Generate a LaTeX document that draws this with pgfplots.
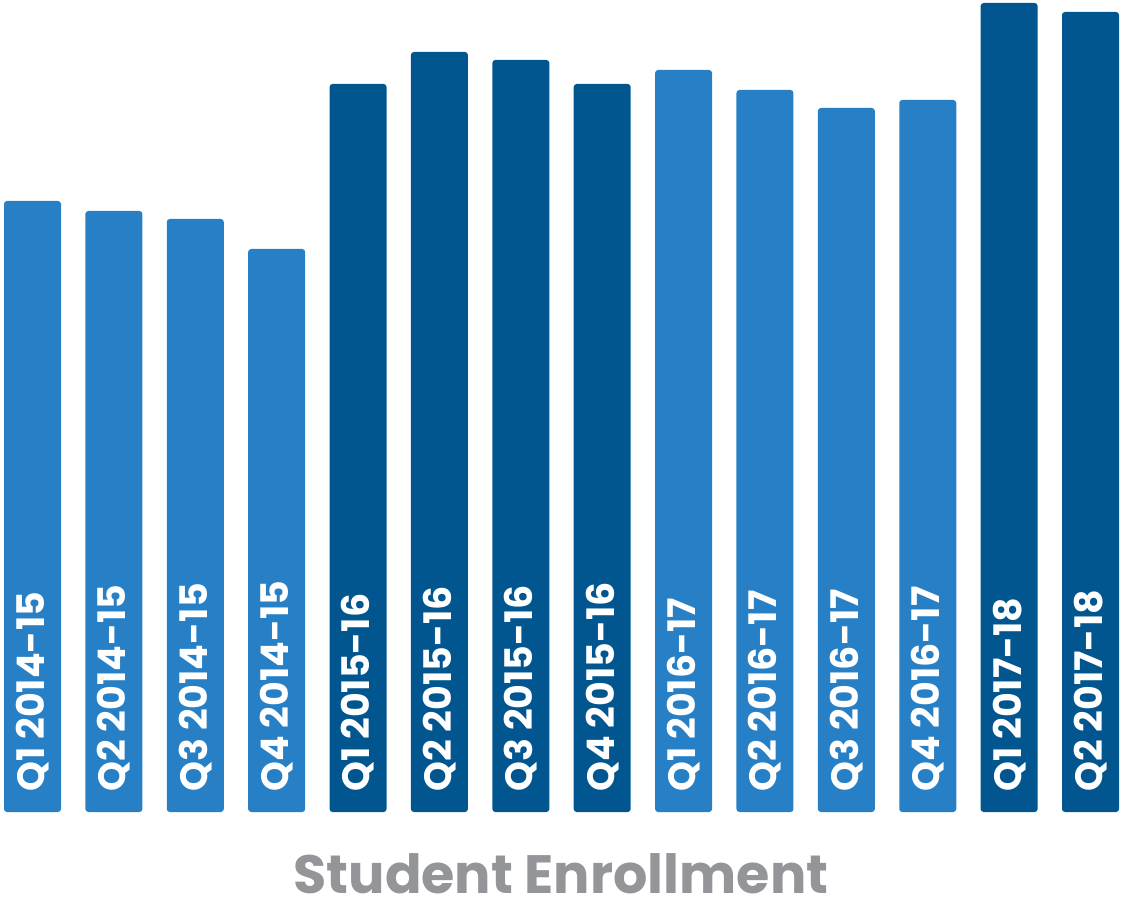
\documentclass[border=0pt]{standalone}
\usepackage{pgfplots}
\pgfplotsset{compat=1.18}
\usepackage{fontspec}
\setmainfont{Poppins}
\newfontfamily\barfont{Poppins}[UprightFont=* Bold]
\definecolor{lightbar}{HTML}{2780C5}
\definecolor{darkbar}{HTML}{02568F}
\definecolor{titlegray}{HTML}{939598}

\begin{document}
\begin{tikzpicture}
\begin{axis}[
  scale only axis,
  width=1122pt, height=812pt,
  xmin=-0.3994, xmax=13.387,
  ymin=0, ymax=812,
  xtick=\empty, ytick=\empty,
  axis line style={draw=none},
  clip=false,
  xlabel={Student Enrollment},
  xlabel style={at={(axis description cs:0.5,0)}, anchor=base, yshift=-81pt,
    inner sep=0pt, text depth=16pt, text=titlegray,
    font=\barfont\fontsize{54}{54}\selectfont},
]
% light bars
\addplot[ybar, bar width=57pt, fill=lightbar, draw=none, rounded corners=3pt]
coordinates {(0,611) (1,601) (2,593) (3,563) (8,742) (9,722) (10,704) (11,712)};
% dark bars
\addplot[ybar, bar width=57pt, fill=darkbar, draw=none, rounded corners=3pt]
coordinates {(4,728) (5,760) (6,752) (7,728) (12,809) (13,800)};
% labels inside the bars
\addplot[draw=none, mark=none, nodes near coords, point meta=explicit symbolic,
  nodes near coords align={west},
  every node near coord/.style={rotate=90, inner sep=0pt, text=white,
    font=\barfont\fontsize{38}{38}\selectfont}]
table[meta=label] {
x  y  label
0  20 {Q1 2014-15}
1  20 {Q2 2014-15}
2  20 {Q3 2014-15}
3  20 {Q4 2014-15}
4  20 {Q1 2015-16}
5  20 {Q2 2015-16}
6  20 {Q3 2015-16}
7  20 {Q4 2015-16}
8  20 {Q1 2016-17}
9  20 {Q2 2016-17}
10 20 {Q3 2016-17}
11 20 {Q4 2016-17}
12 20 {Q1 2017-18}
13 20 {Q2 2017-18}
};
\end{axis}
\end{tikzpicture}
\end{document}
